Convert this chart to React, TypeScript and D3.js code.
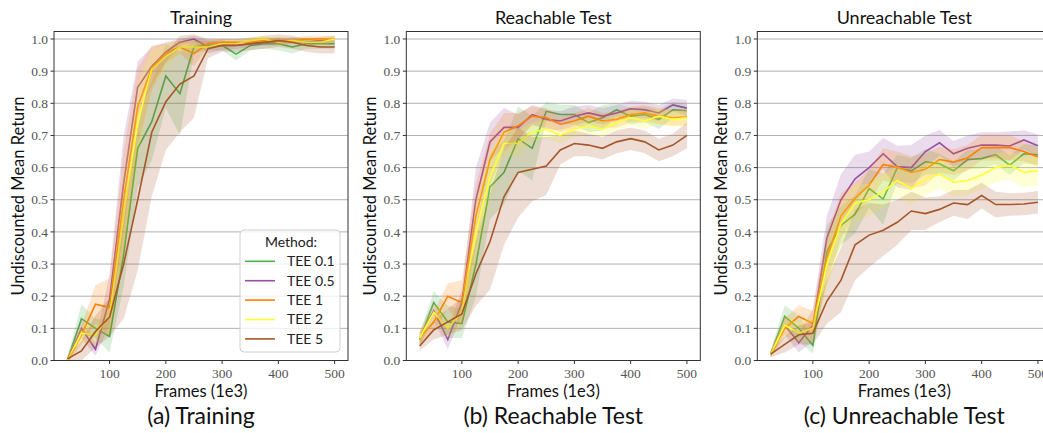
import * as d3 from "d3";

const frames = [25, 50, 75, 100, 125, 150, 175, 200, 225, 250, 275, 300, 325, 350, 375, 400, 425, 450, 475, 500];
const methods = ["TEE 0.1", "TEE 0.5", "TEE 1", "TEE 2", "TEE 5"];
const colors = ["#4daf4a", "#984ea3", "#ff7f00", "#ffff33", "#a65628"];
const titles = ["Training", "Reachable Test", "Unreachable Test"];
const captions = ["(a) Training", "(b) Reachable Test", "(c) Unreachable Test"];

// Training
const trainTee01 = [0.0, 0.13, 0.1, 0.075, 0.33, 0.66, 0.743, 0.885, 0.83, 0.976, 0.98, 0.98, 0.953, 0.98, 0.985, 0.985, 0.975, 0.985, 0.985, 0.985];
const trainTee05 = [0.0, 0.1, 0.035, 0.19, 0.55, 0.85, 0.915, 0.96, 0.99, 1.0, 0.975, 0.98, 0.98, 0.985, 0.99, 0.99, 0.995, 0.99, 0.995, 1.0];
const trainTee1 = [0.0, 0.08, 0.175, 0.165, 0.5, 0.79, 0.91, 0.955, 0.975, 0.955, 0.985, 0.99, 0.99, 0.99, 0.995, 0.995, 0.995, 1.0, 1.0, 1.0];
const trainTee2 = [0.0, 0.085, 0.08, 0.14, 0.45, 0.74, 0.905, 0.945, 0.975, 0.975, 0.975, 0.985, 0.985, 0.995, 1.0, 0.99, 0.995, 0.99, 0.99, 1.0];
const trainTee5 = [0.005, 0.03, 0.09, 0.135, 0.3, 0.5, 0.71, 0.805, 0.86, 0.885, 0.97, 0.98, 0.98, 0.985, 0.99, 0.995, 0.99, 0.98, 0.975, 0.975];
const trainSd01 = [0.01, 0.045, 0.03, 0.05, 0.1, 0.12, 0.12, 0.1, 0.13, 0.02, 0.015, 0.015, 0.02, 0.015, 0.015, 0.02, 0.02, 0.015, 0.015, 0.015];
const trainSd05 = [0.01, 0.03, 0.02, 0.08, 0.15, 0.08, 0.06, 0.03, 0.01, 0.01, 0.02, 0.015, 0.01, 0.01, 0.01, 0.01, 0.01, 0.01, 0.01, 0.01];
const trainSd1 = [0.01, 0.03, 0.06, 0.09, 0.15, 0.12, 0.07, 0.03, 0.02, 0.04, 0.01, 0.01, 0.01, 0.01, 0.01, 0.01, 0.01, 0.01, 0.01, 0.01];
const trainSd2 = [0.01, 0.03, 0.03, 0.05, 0.12, 0.12, 0.06, 0.04, 0.02, 0.02, 0.01, 0.01, 0.01, 0.01, 0.01, 0.01, 0.01, 0.01, 0.01, 0.01];
const trainSd5 = [0.01, 0.03, 0.05, 0.06, 0.17, 0.22, 0.2, 0.15, 0.15, 0.13, 0.03, 0.02, 0.02, 0.02, 0.02, 0.02, 0.02, 0.02, 0.02, 0.02];

// Reachable test
const reachTee01 = [0.065, 0.18, 0.12, 0.115, 0.3, 0.54, 0.585, 0.69, 0.66, 0.775, 0.765, 0.765, 0.74, 0.755, 0.78, 0.76, 0.765, 0.75, 0.78, 0.777];
const reachTee05 = [0.07, 0.155, 0.065, 0.18, 0.5, 0.68, 0.725, 0.725, 0.765, 0.75, 0.745, 0.76, 0.77, 0.76, 0.77, 0.783, 0.78, 0.77, 0.795, 0.785];
const reachTee1 = [0.07, 0.12, 0.2, 0.18, 0.45, 0.625, 0.71, 0.73, 0.76, 0.755, 0.735, 0.745, 0.76, 0.745, 0.75, 0.765, 0.77, 0.76, 0.755, 0.757];
const reachTee2 = [0.07, 0.15, 0.1, 0.15, 0.4, 0.57, 0.675, 0.675, 0.71, 0.72, 0.7, 0.72, 0.73, 0.72, 0.74, 0.755, 0.745, 0.76, 0.75, 0.755];
const reachTee5 = [0.045, 0.095, 0.12, 0.145, 0.27, 0.37, 0.51, 0.585, 0.595, 0.605, 0.655, 0.675, 0.67, 0.66, 0.68, 0.69, 0.68, 0.655, 0.67, 0.7];
const reachSd01 = [0.02, 0.035, 0.05, 0.045, 0.1, 0.1, 0.1, 0.1, 0.1, 0.03, 0.03, 0.03, 0.03, 0.04, 0.02, 0.025, 0.025, 0.03, 0.025, 0.02];
const reachSd05 = [0.02, 0.03, 0.03, 0.04, 0.1, 0.06, 0.06, 0.04, 0.03, 0.03, 0.03, 0.03, 0.025, 0.025, 0.025, 0.025, 0.025, 0.025, 0.02, 0.025];
const reachSd1 = [0.02, 0.03, 0.04, 0.07, 0.1, 0.08, 0.06, 0.04, 0.03, 0.03, 0.025, 0.025, 0.025, 0.025, 0.025, 0.025, 0.025, 0.025, 0.025, 0.025];
const reachSd2 = [0.02, 0.03, 0.03, 0.04, 0.1, 0.08, 0.04, 0.04, 0.03, 0.03, 0.025, 0.025, 0.025, 0.025, 0.025, 0.025, 0.025, 0.025, 0.025, 0.025];
const reachSd5 = [0.015, 0.03, 0.04, 0.05, 0.1, 0.15, 0.15, 0.14, 0.1, 0.09, 0.045, 0.04, 0.035, 0.035, 0.035, 0.035, 0.035, 0.035, 0.035, 0.04];

// Unreachable test
const unreachTee01 = [0.02, 0.137, 0.1, 0.047, 0.34, 0.42, 0.455, 0.535, 0.502, 0.6, 0.59, 0.618, 0.612, 0.59, 0.625, 0.628, 0.64, 0.608, 0.643, 0.64];
const unreachTee05 = [0.02, 0.11, 0.055, 0.11, 0.38, 0.5, 0.565, 0.6, 0.643, 0.603, 0.6, 0.65, 0.677, 0.643, 0.66, 0.67, 0.67, 0.667, 0.686, 0.668];
const unreachTee1 = [0.02, 0.1, 0.137, 0.115, 0.32, 0.45, 0.505, 0.545, 0.61, 0.6, 0.585, 0.595, 0.625, 0.617, 0.63, 0.662, 0.662, 0.662, 0.65, 0.633];
const unreachTee2 = [0.02, 0.11, 0.085, 0.1, 0.3, 0.425, 0.49, 0.5, 0.525, 0.56, 0.535, 0.565, 0.58, 0.555, 0.56, 0.577, 0.6, 0.607, 0.585, 0.59];
const unreachTee5 = [0.02, 0.05, 0.08, 0.085, 0.185, 0.25, 0.36, 0.39, 0.405, 0.43, 0.465, 0.457, 0.47, 0.49, 0.485, 0.513, 0.485, 0.485, 0.487, 0.492];
const unreachSd01 = [0.01, 0.035, 0.04, 0.025, 0.08, 0.06, 0.06, 0.06, 0.08, 0.04, 0.04, 0.04, 0.03, 0.03, 0.03, 0.03, 0.03, 0.03, 0.03, 0.03];
const unreachSd05 = [0.01, 0.03, 0.03, 0.05, 0.07, 0.08, 0.075, 0.05, 0.05, 0.065, 0.07, 0.05, 0.04, 0.04, 0.04, 0.04, 0.04, 0.045, 0.03, 0.035];
const unreachSd1 = [0.01, 0.03, 0.035, 0.04, 0.08, 0.07, 0.05, 0.05, 0.05, 0.05, 0.05, 0.05, 0.04, 0.04, 0.04, 0.04, 0.04, 0.04, 0.03, 0.03];
const unreachSd2 = [0.01, 0.03, 0.03, 0.04, 0.08, 0.07, 0.06, 0.05, 0.05, 0.05, 0.05, 0.05, 0.045, 0.045, 0.045, 0.045, 0.045, 0.045, 0.045, 0.045];
const unreachSd5 = [0.01, 0.025, 0.03, 0.035, 0.07, 0.1, 0.11, 0.1, 0.08, 0.07, 0.06, 0.05, 0.04, 0.04, 0.045, 0.04, 0.04, 0.035, 0.035, 0.035];

const panelMeans = [
  [trainTee01, trainTee05, trainTee1, trainTee2, trainTee5],
  [reachTee01, reachTee05, reachTee1, reachTee2, reachTee5],
  [unreachTee01, unreachTee05, unreachTee1, unreachTee2, unreachTee5],
];
const panelSds = [
  [trainSd01, trainSd05, trainSd1, trainSd2, trainSd5],
  [reachSd01, reachSd05, reachSd1, reachSd2, reachSd5],
  [unreachSd01, unreachSd05, unreachSd1, unreachSd2, unreachSd5],
];

const W = 1043;
const H = 433;
const top = 31.5;
const bottom = 360.5;
const panelLefts = [54, 406.3, 757.3];
const panelW = 294;
const sans = "Lato, 'Open Sans', sans-serif";
const serif = "'Liberation Serif', serif";

function Panel({ idx }: { idx: number }) {
  const left = panelLefts[idx];
  const right = left + panelW;
  const x = d3.scaleLinear().domain([1.25, 523.75]).range([left, right]);
  const y = d3.scaleLinear().domain([0, 1.0233]).range([bottom, top]);
  const yTicks = d3.range(0, 11).map((i) => i / 10);
  const xTicks = x.ticks(5).filter((t) => t >= 100);
  const fmt = d3.format(".1f");
  const cx = (left + right) / 2;
  const clipId = `clip${idx}`;

  return (
    <g>
      <defs>
        <clipPath id={clipId}>
          <rect x={left} y={top} width={panelW} height={bottom - top} />
        </clipPath>
      </defs>
      {yTicks.map((t) => (
        <line key={t} x1={left} x2={right} y1={y(t)} y2={y(t)} stroke="#b0b0b0" strokeWidth={1} />
      ))}
      <g clipPath={`url(#${clipId})`}>
        {panelMeans[idx].map((m, s) => {
          const sd = panelSds[idx][s];
          const area = d3
            .area<number>()
            .x((_, i) => x(frames[i]))
            .y0((v, i) => y(v - sd[i]))
            .y1((v, i) => y(v + sd[i]));
          const line = d3
            .line<number>()
            .x((_, i) => x(frames[i]))
            .y((v) => y(v));
          return (
            <g key={s}>
              <path d={area(m) || ""} fill={colors[s]} fillOpacity={0.2} stroke="none" />
              <path d={line(m) || ""} fill="none" stroke={colors[s]} strokeWidth={1.6} />
            </g>
          );
        })}
      </g>
      <rect x={left} y={top} width={panelW} height={bottom - top} fill="none" stroke="#333" strokeWidth={1} />
      {yTicks.map((t) => (
        <g key={t}>
          <line x1={left - 3.5} x2={left} y1={y(t)} y2={y(t)} stroke="#333" />
          <text x={left - 6} y={y(t)} dy="0.35em" textAnchor="end" fontFamily={serif} fontSize={13.5} fill="#555">
            {fmt(t)}
          </text>
        </g>
      ))}
      {xTicks.map((t) => (
        <g key={t}>
          <line x1={x(t)} x2={x(t)} y1={bottom} y2={bottom + 3.5} stroke="#333" />
          <text x={x(t)} y={bottom + 17} textAnchor="middle" fontFamily={serif} fontSize={13.5} fill="#555">
            {t}
          </text>
        </g>
      ))}
      <text x={cx} y={23.5} textAnchor="middle" fontFamily={sans} fontSize={18} fill="#111">
        {titles[idx]}
      </text>
      <text x={cx} y={397} textAnchor="middle" fontFamily={sans} fontSize={16.5} fill="#111">
        Frames (1e3)
      </text>
      <text
        transform={`translate(${left - 30},${(top + bottom) / 2}) rotate(-90)`}
        textAnchor="middle"
        fontFamily={sans}
        fontSize={16.5}
        fill="#111"
      >
        Undiscounted Mean Return
      </text>
      <text x={cx} y={424} textAnchor="middle" fontFamily={sans} fontSize={23} fill="#111">
        {captions[idx]}
      </text>
    </g>
  );
}

function Legend() {
  const lx = 240;
  const ly = 230;
  return (
    <g>
      <rect x={lx} y={ly} width={100} height={122} rx={4} fill="#fff" fillOpacity={0.8} stroke="#d0d0d0" />
      <text x={lx + 51} y={ly + 12} dy="0.35em" textAnchor="middle" fontFamily={sans} fontSize={14} fill="#222">
        Method:
      </text>
      {methods.map((m, i) => {
        const yy = ly + 31.3 + i * 19.4;
        return (
          <g key={m}>
            <line x1={lx + 5} x2={lx + 35} y1={yy} y2={yy} stroke={colors[i]} strokeWidth={1.6} />
            <text x={lx + 47} y={yy} dy="0.35em" fontFamily={sans} fontSize={14} fill="#222">
              {m}
            </text>
          </g>
        );
      })}
    </g>
  );
}

export default function App() {
  return (
    <svg
      width={W}
      height={H}
      viewBox={`0 0 ${W} ${H}`}
      style={{ position: "absolute", left: 0, top: 0, background: "#fff" }}
    >
      {[0, 1, 2].map((i) => (
        <Panel key={i} idx={i} />
      ))}
      <Legend />
    </svg>
  );
}
